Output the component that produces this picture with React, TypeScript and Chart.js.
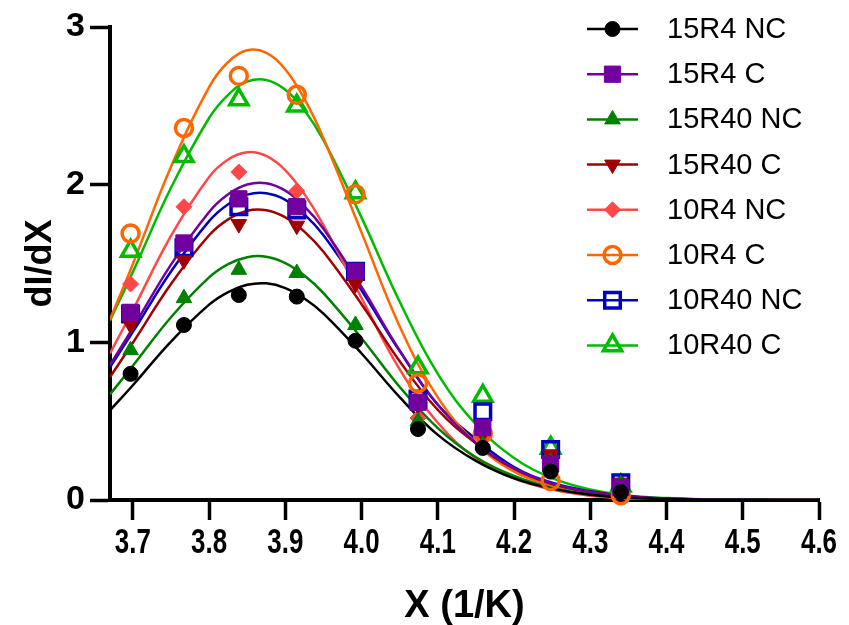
import React, { useEffect, useRef } from 'react';
import { Chart, registerables } from 'chart.js';
import { drawPoint } from 'chart.js/helpers';

Chart.register(...registerables);

// ---- data ----
const seriesNames = ['15R4 NC', '15R4 C', '15R40 NC', '15R40 C', '10R4 NC', '10R4 C', '10R40 NC', '10R40 C'];
const xPoints = [3.697, 3.767, 3.839, 3.915, 3.992, 4.074, 4.159, 4.248, 4.34];

const pts15R4NC = [0.8, 1.11, 1.3, 1.29, 1.01, 0.45, 0.33, 0.18, 0.05];
const pts15R4C = [1.19, 1.63, 1.91, 1.86, 1.45, 0.62, 0.46, 0.23, 0.08];
const pts15R40NC = [0.95, 1.28, 1.46, 1.44, 1.11, 0.5, 0.35, 0.24, 0.1];
const pts15R40C = [1.11, 1.52, 1.75, 1.74, 1.37, 0.6, 0.42, 0.29, 0.11];
const pts10R4NC = [1.37, 1.86, 2.08, 1.96, 1.4, 0.52, 0.4, 0.2, 0.06];
const pts10R4C = [1.69, 2.36, 2.69, 2.57, 1.94, 0.74, 0.42, 0.12, 0.03];
const pts10R40NC = [1.18, 1.6, 1.86, 1.84, 1.45, 0.64, 0.56, 0.32, 0.11];
const pts10R40C = [1.58, 2.18, 2.54, 2.5, 1.95, 0.84, 0.66, 0.33, 0.09];

const curveX = [3.67, 3.7, 3.75, 3.8, 3.825, 3.85, 3.875, 3.9, 3.925, 3.95, 4.0, 4.05, 4.1, 4.15, 4.2, 4.25, 4.3, 4.35, 4.4, 4.45, 4.5, 4.6];
const fit15R4NC = [0.569, 0.728, 1.005, 1.239, 1.319, 1.365, 1.374, 1.344, 1.278, 1.182, 0.929, 0.652, 0.413, 0.248, 0.137, 0.072, 0.034, 0.0145, 0.006, 0.0023, 0.001, 0];
const fit15R4C = [0.857, 1.091, 1.493, 1.827, 1.939, 2.001, 2.009, 1.962, 1.863, 1.721, 1.351, 0.949, 0.604, 0.362, 0.201, 0.105, 0.05, 0.021, 0.009, 0.0035, 0.0014, 0];
const fit15R40NC = [0.67, 0.851, 1.159, 1.412, 1.496, 1.54, 1.543, 1.503, 1.424, 1.312, 1.026, 0.717, 0.456, 0.271, 0.152, 0.077, 0.037, 0.016, 0.0067, 0.0026, 0.001, 0];
const fit15R40C = [0.78, 0.997, 1.37, 1.679, 1.78, 1.835, 1.838, 1.793, 1.702, 1.574, 1.242, 0.88, 0.571, 0.359, 0.197, 0.101, 0.052, 0.023, 0.009, 0.004, 0.0015, 0];
const fit10R4NC = [0.93, 1.205, 1.675, 2.049, 2.16, 2.206, 2.182, 2.091, 1.94, 1.744, 1.281, 0.828, 0.49, 0.265, 0.137, 0.066, 0.027, 0.01, 0.004, 0.0015, 0.0005, 0];
const fit10R4C = [1.145, 1.497, 2.113, 2.619, 2.778, 2.852, 2.836, 2.73, 2.544, 2.295, 1.696, 1.101, 0.651, 0.36, 0.18, 0.091, 0.036, 0.013, 0.005, 0.0018, 0.0006, 0];
const fit10R40NC = [0.842, 1.066, 1.449, 1.769, 1.876, 1.937, 1.946, 1.904, 1.812, 1.679, 1.329, 0.944, 0.604, 0.386, 0.209, 0.109, 0.055, 0.024, 0.0097, 0.0043, 0.0017, 0];
const fit10R40C = [1.137, 1.447, 1.98, 2.423, 2.57, 2.654, 2.664, 2.602, 2.472, 2.282, 1.791, 1.257, 0.8, 0.48, 0.267, 0.139, 0.067, 0.028, 0.012, 0.0045, 0.0019, 0];

const xTicks = [3.7, 3.8, 3.9, 4.0, 4.1, 4.2, 4.3, 4.4, 4.5, 4.6];
const yTicks = [0, 1, 2, 3];

const pointSets = [pts15R4NC, pts15R4C, pts15R40NC, pts15R40C, pts10R4NC, pts10R4C, pts10R40NC, pts10R40C];
const fitSets = [fit15R4NC, fit15R4C, fit15R40NC, fit15R40C, fit10R4NC, fit10R4C, fit10R40NC, fit10R40C];

// ---- styles ----
const styles = [
  { color: '#000000', bg: '#000000', pointStyle: 'circle', rotation: 0, radius: 7.5, bw: 1 },
  { color: '#72009E', bg: '#72009E', pointStyle: 'rect', rotation: 0, radius: 11.5, bw: 1 },
  { color: '#008000', bg: '#008000', pointStyle: 'triangle', rotation: 0, radius: 9, bw: 1 },
  { color: '#A00000', bg: '#A00000', pointStyle: 'triangle', rotation: 180, radius: 9, bw: 1 },
  { color: '#FF4747', bg: '#FF4747', pointStyle: 'rectRot', rotation: 0, radius: 8, bw: 1 },
  { color: '#FF6600', bg: 'rgba(0,0,0,0)', pointStyle: 'circle', rotation: 0, radius: 8.5, bw: 3.5 },
  { color: '#0000C0', bg: 'rgba(0,0,0,0)', pointStyle: 'rect', rotation: 0, radius: 11, bw: 3.5 },
  { color: '#00BB00', bg: 'rgba(0,0,0,0)', pointStyle: 'triangle', rotation: 0, radius: 10.5, bw: 3.5 },
];

const regular = "'Liberation Sans', Arial, Helvetica, sans-serif";

// legend drawn inside the plot area, plus narrow (condensed) x tick labels
const overlayPlugin = {
  id: 'overlay',
  afterDraw(chart: any) {
    const ctx = chart.ctx as CanvasRenderingContext2D;
    const x0 = 587;
    const x1 = 638;
    const top = 29;
    const gap = 45.2;
    ctx.save();
    seriesNames.forEach((name, i) => {
      const s = styles[i];
      const y = top + i * gap;
      ctx.strokeStyle = s.color;
      ctx.lineWidth = 2.5;
      ctx.beginPath();
      ctx.moveTo(x0, y);
      ctx.lineTo(x1, y);
      ctx.stroke();
      ctx.fillStyle = s.bg;
      ctx.strokeStyle = s.color;
      ctx.lineWidth = s.bw;
      drawPoint(ctx, { pointStyle: s.pointStyle, rotation: s.rotation, radius: s.radius, borderWidth: s.bw } as any, (x0 + x1) / 2, y);
      ctx.fillStyle = '#000';
      ctx.font = `29px ${regular}`;
      ctx.textBaseline = 'middle';
      ctx.textAlign = 'left';
      ctx.fillText(name, 667, y + 1);
    });
    // condensed x tick labels placed with the x scale
    const xs = chart.scales.x;
    const labelY = xs.top + 43;
    ctx.fillStyle = '#000';
    ctx.font = `bold 35px ${regular}`;
    ctx.textAlign = 'center';
    ctx.textBaseline = 'middle';
    xs.ticks.forEach((t: any) => {
      const px = xs.getPixelForValue(t.value);
      ctx.save();
      ctx.translate(px, labelY);
      ctx.scale(0.74, 1);
      ctx.fillText(Number(t.value).toFixed(1), 0, 0);
      ctx.restore();
    });
    ctx.restore();
  },
};

export default function App() {
  const ref = useRef<HTMLCanvasElement | null>(null);
  useEffect(() => {
    if (!ref.current) return;
    const scatterSets = pointSets.map((arr, i) => ({
      type: 'scatter' as const,
      label: seriesNames[i],
      data: arr.map((v, k) => ({ x: xPoints[k], y: v })),
      showLine: false,
      pointStyle: styles[i].pointStyle,
      rotation: styles[i].rotation,
      pointRadius: styles[i].radius,
      pointHoverRadius: styles[i].radius,
      pointBorderWidth: styles[i].bw,
      pointBackgroundColor: styles[i].bg,
      pointBorderColor: styles[i].color,
      borderColor: styles[i].color,
      backgroundColor: styles[i].bg,
      clip: false as any,
      order: i,
    }));
    const lineSets = fitSets.map((arr, i) => ({
      type: 'scatter' as const,
      label: seriesNames[i] + ' fit',
      data: arr.map((v, k) => ({ x: curveX[k], y: v })),
      showLine: true,
      pointRadius: 0,
      borderWidth: 2.5,
      borderColor: styles[i].color,
      backgroundColor: styles[i].color,
      tension: 0.4,
      fill: false,
      order: 10 + i,
    }));
    const chart = new Chart(ref.current, {
      type: 'scatter',
      data: { datasets: [...scatterSets, ...lineSets] as any },
      options: {
        animation: false,
        responsive: false,
        devicePixelRatio: 1,
        layout: { padding: { left: 0, right: 30, top: 27, bottom: 0 } },
        plugins: { legend: { display: false }, tooltip: { enabled: false } },
        scales: {
          x: {
            type: 'linear',
            min: 3.67,
            max: 4.6,
            afterBuildTicks: (scale: any) => {
              scale.ticks = xTicks.map((v) => ({ value: v }));
            },
            afterFit: (scale: any) => {
              scale.height = 125;
            },
            ticks: {
              display: false,
              callback: (v: any) => Number(v).toFixed(1),
            },
            grid: { drawOnChartArea: false, drawTicks: true, tickLength: 20, tickWidth: 3.5, tickColor: '#000' },
            border: { display: true, width: 4, color: '#000' },
            title: {
              display: true,
              text: 'X (1/K)',
              color: '#000',
              font: { family: regular, weight: 'bold', size: 38 },
              padding: { top: 0, bottom: -4 },
            },
          },
          y: {
            type: 'linear',
            min: 0,
            max: 3,
            afterBuildTicks: (scale: any) => {
              scale.ticks = yTicks.map((v) => ({ value: v }));
            },
            afterFit: (scale: any) => {
              scale.width = 110;
            },
            ticks: {
              color: '#000',
              font: { family: regular, weight: 'bold', size: 34 },
              padding: 5,
              callback: (v: any) => String(v),
            },
            grid: { drawOnChartArea: false, drawTicks: true, tickLength: 20, tickWidth: 3.5, tickColor: '#000' },
            border: { display: true, width: 4, color: '#000' },
            title: {
              display: true,
              text: 'dI/dX',
              color: '#000',
              font: { family: regular, weight: 'bold', size: 36 },
              padding: { top: 19, bottom: 0 },
            },
          },
        },
      },
      plugins: [overlayPlugin],
    } as any);
    return () => chart.destroy();
  }, []);
  return (
    <div style={{ position: 'absolute', left: 0, top: 0, width: 849, height: 625, background: '#fff' }}>
      <canvas ref={ref} width={849} height={625} style={{ display: 'block' }} />
    </div>
  );
}
